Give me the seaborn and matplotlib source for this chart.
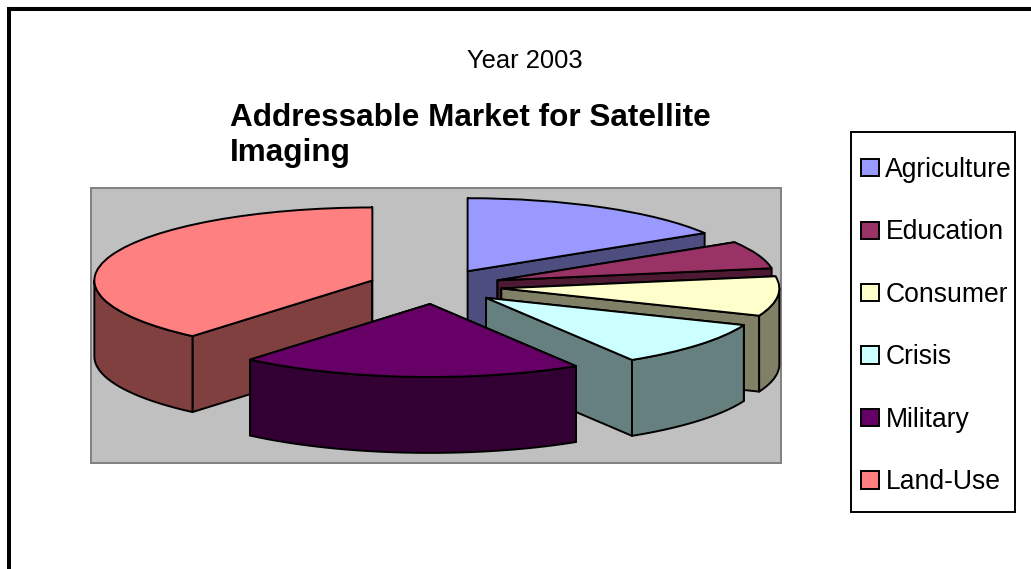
import numpy as np
import matplotlib
matplotlib.use("Agg")
import matplotlib.pyplot as plt
from matplotlib.patches import Rectangle
import seaborn as sns

# Market shares for 2003, percent
categories = ["Agriculture", "Education", "Consumer", "Crisis", "Military", "Land-Use"]
shares = [16.25, 6.1, 8.75, 10.1, 20.0, 38.8]
top_hex = ["#9999FF", "#993366", "#FFFFCC", "#CCFFFF", "#660066", "#FF8080"]
side_hex = ["#4D4D80", "#4D1933", "#808066", "#668080", "#330033", "#804040"]
# back-to-front painting sequence of the slices
paint_order = ["Agriculture", "Education", "Consumer", "Land-Use", "Crisis", "Military"]

W, H = 1031, 569
EXPLODE = 0.24     # radial offset of every slice, in pie radii
DEPTH = 1.04       # extruded thickness, in units of the squashed vertical radius
RX, RY = 278.0, 73.0   # on-screen radii of the pie ellipse, pixels
CX, CY = 435.0, 286.5  # on-screen pie centre, pixels
LW = 1.4

sns.set_theme(style="white")
plt.rcParams["font.family"] = ["Liberation Sans", "DejaVu Sans"]
top_colors = sns.color_palette(top_hex)
side_colors = sns.color_palette(side_hex)

fig = plt.figure(figsize=(W / 100, H / 100), dpi=100, facecolor="white")

# plot area
L, R, T, B = 91, 781, 188, 463
ax = fig.add_axes([L / W, 1 - B / H, (R - L) / W, (B - T) / H])
wedges, _ = ax.pie(shares, colors=top_colors, startangle=90, counterclock=False,
                   explode=[EXPLODE] * len(shares),
                   wedgeprops=dict(edgecolor="black", linewidth=LW, joinstyle="round"))
ax.set_aspect("auto")
ax.set_frame_on(True)
ax.set_facecolor("#C0C0C0")
for s in ax.spines.values():
    s.set_color("#808080")
    s.set_linewidth(1.4)
ax.set_xlim((L - CX) / RX, (R - CX) / RX)
ax.set_ylim((CY - B) / RY, (CY - T) / RY)

# extrude each slice downward, painting from the back of the pie to the front
fractions = np.array(shares) / np.sum(shares)
edges = np.concatenate([[0], np.cumsum(fractions)]) * 2 * np.pi
for rank, name in enumerate(paint_order):
    i = categories.index(name)
    a0, a1 = edges[i], edges[i + 1]
    mid = (a0 + a1) / 2
    ox, oy = EXPLODE * np.sin(mid), EXPLODE * np.cos(mid)
    base = 3 + rank * 3
    style = dict(facecolor=side_colors[i], edgecolor="black", linewidth=LW,
                 joinstyle="round", zorder=base)
    for a in (a0, a1):
        xs = [ox, ox + np.sin(a), ox + np.sin(a), ox]
        ys = [oy, oy + np.cos(a), oy + np.cos(a) - DEPTH, oy - DEPTH]
        ax.fill(xs, ys, **style)
    lo, hi = max(a0, np.pi / 2), min(a1, 3 * np.pi / 2)
    if hi > lo:
        t = np.linspace(lo, hi, 80)
        xs = ox + np.sin(t)
        ys = oy + np.cos(t)
        ax.fill(np.r_[xs, xs[::-1]], np.r_[ys, ys[::-1] - DEPTH],
                **{**style, "zorder": base + 1})
    wedges[i].set_zorder(base + 2)

# outer frame, running off the right and bottom of the canvas
fig.add_artist(Rectangle((9 / W, -0.1), 1.2, 1.1 - 9 / H, transform=fig.transFigure,
                         fill=False, edgecolor="black", linewidth=2.9))

fig.text(525 / W, 1 - 61 / H, "Year 2003", ha="center", va="center", fontsize=18.4, color="black")
fig.text(230 / W, 1 - 135.5 / H, "Addressable Market for Satellite\nImaging", ha="left", va="center",
         fontsize=22.7, fontweight="bold", color="black", linespacing=1.2)

# legend box
fig.add_artist(Rectangle((851 / W, 1 - 512 / H), 164 / W, 380 / H, transform=fig.transFigure,
                         facecolor="white", edgecolor="black", linewidth=1.4))
leg = fig.legend(wedges, categories, loc="upper left",
                 bbox_to_anchor=(861 / W, 1 - 157 / H), bbox_transform=fig.transFigure,
                 frameon=False, fontsize=19.1, borderpad=0, borderaxespad=0,
                 handlelength=0.68, handleheight=0.62, handletextpad=0.24, labelspacing=1.375,
                 labelcolor="black")
leg.set_zorder(10)

fig.savefig("out.png", dpi=100)
